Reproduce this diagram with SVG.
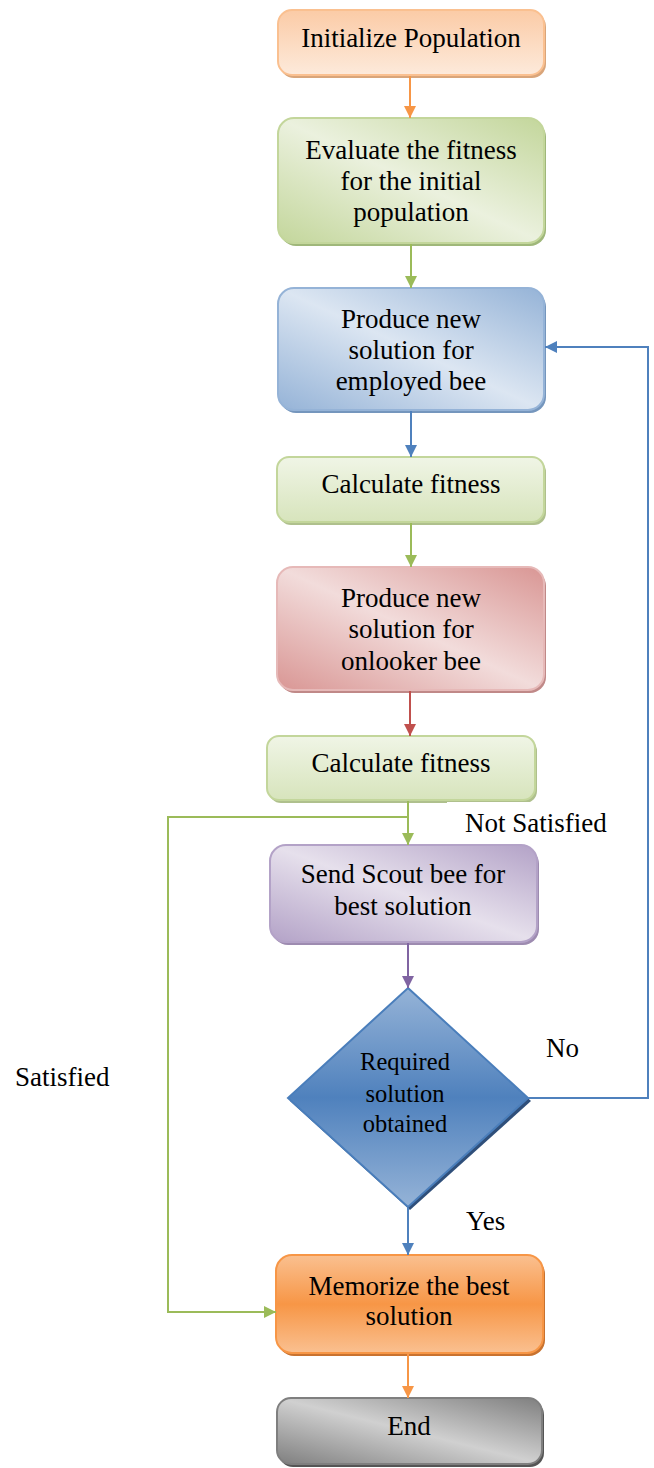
<svg xmlns="http://www.w3.org/2000/svg" width="654" height="1468" viewBox="0 0 654 1468">
<style>
.t{font-family:"Liberation Serif","Times New Roman",serif;font-size:27px;fill:#000;text-anchor:middle}
.d{font-size:24.5px}
.l{font-family:"Liberation Serif","Times New Roman",serif;font-size:27px;fill:#000}
.c{fill:none;stroke-width:2}
</style>
<defs>
<marker id="mo" markerUnits="userSpaceOnUse" markerWidth="14" markerHeight="14" refX="12" refY="6" orient="auto"><path d="M0,0 L12,6 L0,12 z" fill="#f79646"/></marker>
<marker id="mg" markerUnits="userSpaceOnUse" markerWidth="14" markerHeight="14" refX="12" refY="6" orient="auto"><path d="M0,0 L12,6 L0,12 z" fill="#9bbb59"/></marker>
<marker id="mb" markerUnits="userSpaceOnUse" markerWidth="14" markerHeight="14" refX="12" refY="6" orient="auto"><path d="M0,0 L12,6 L0,12 z" fill="#4f81bd"/></marker>
<marker id="mr" markerUnits="userSpaceOnUse" markerWidth="14" markerHeight="14" refX="12" refY="6" orient="auto"><path d="M0,0 L12,6 L0,12 z" fill="#c0504d"/></marker>
<marker id="mp" markerUnits="userSpaceOnUse" markerWidth="14" markerHeight="14" refX="12" refY="6" orient="auto"><path d="M0,0 L12,6 L0,12 z" fill="#8064a2"/></marker>
<linearGradient id="gOr1" x1="0" y1="0" x2="0" y2="1"><stop offset="0" stop-color="#fbcba6"/><stop offset="1" stop-color="#fdeadb"/></linearGradient>
<linearGradient id="gGr" x1="0" y1="1" x2="1" y2="0"><stop offset="0" stop-color="#c3d69b"/><stop offset="0.5" stop-color="#ebf1de"/><stop offset="1" stop-color="#c3d69b"/></linearGradient>
<linearGradient id="gBl" x1="0" y1="1" x2="1" y2="0"><stop offset="0" stop-color="#95b3d7"/><stop offset="0.5" stop-color="#dce6f2"/><stop offset="1" stop-color="#95b3d7"/></linearGradient>
<linearGradient id="gLg" x1="0" y1="0" x2="0" y2="1"><stop offset="0" stop-color="#f0f5e6"/><stop offset="1" stop-color="#d7e4bc"/></linearGradient>
<linearGradient id="gRd" x1="0" y1="1" x2="1" y2="0"><stop offset="0" stop-color="#d99694"/><stop offset="0.5" stop-color="#f2dcdb"/><stop offset="1" stop-color="#d99694"/></linearGradient>
<linearGradient id="gPu" x1="0" y1="1" x2="1" y2="0"><stop offset="0" stop-color="#b3a2c7"/><stop offset="0.5" stop-color="#e6e0ec"/><stop offset="1" stop-color="#b3a2c7"/></linearGradient>
<linearGradient id="gDm" x1="0" y1="0" x2="0" y2="1"><stop offset="0" stop-color="#95b3d7"/><stop offset="0.5" stop-color="#4f81bd"/><stop offset="1" stop-color="#95b3d7"/></linearGradient>
<linearGradient id="gOr2" x1="0" y1="0" x2="0" y2="1"><stop offset="0" stop-color="#fac090"/><stop offset="0.5" stop-color="#f79646"/><stop offset="1" stop-color="#fac090"/></linearGradient>
<linearGradient id="gGy" x1="0" y1="1" x2="1" y2="0"><stop offset="0" stop-color="#7f7f7f"/><stop offset="0.5" stop-color="#d0d0d0"/><stop offset="1" stop-color="#7f7f7f"/></linearGradient>
</defs>

<g id="n1">
<rect x="280" y="13" width="266" height="65" rx="14" fill="#d9a57a"/>
<rect x="278" y="10" width="266" height="65" rx="14" fill="url(#gOr1)" stroke="#fac090" stroke-width="2"/>
<text class="t" x="411" y="47">Initialize Population</text>
</g>
<g id="n2">
<rect x="280" y="121" width="266" height="125" rx="16" fill="#9fb77a"/>
<rect x="278" y="118" width="266" height="125" rx="16" fill="url(#gGr)" stroke="#c3d69b" stroke-width="2"/>
<text class="t" x="411" y="159">Evaluate the fitness</text>
<text class="t" x="411" y="190">for the initial</text>
<text class="t" x="411" y="221">population</text>
</g>
<g id="n3">
<rect x="280" y="291" width="266" height="122" rx="16" fill="#7596bd"/>
<rect x="278" y="288" width="266" height="122" rx="16" fill="url(#gBl)" stroke="#95b3d7" stroke-width="2"/>
<text class="t" x="411" y="328">Produce new</text>
<text class="t" x="411" y="359">solution for</text>
<text class="t" x="411" y="390">employed bee</text>
</g>
<g id="n4">
<rect x="279" y="460" width="267" height="65" rx="12" fill="#afc08d"/>
<rect x="277" y="457" width="267" height="65" rx="12" fill="url(#gLg)" stroke="#c3d69b" stroke-width="2"/>
<text class="t" x="411" y="493">Calculate fitness</text>
</g>
<g id="n5">
<rect x="279" y="570" width="267" height="123" rx="16" fill="#c08988"/>
<rect x="277" y="567" width="267" height="123" rx="16" fill="url(#gRd)" stroke="#e6b9b8" stroke-width="2"/>
<text class="t" x="411" y="607">Produce new</text>
<text class="t" x="411" y="638">solution for</text>
<text class="t" x="411" y="670">onlooker bee</text>
</g>
<g id="n6">
<rect x="269" y="739" width="268" height="64" rx="12" fill="#afc08d"/>
<rect x="267" y="736" width="268" height="64" rx="12" fill="url(#gLg)" stroke="#c3d69b" stroke-width="2"/>
<text class="t" x="401" y="772">Calculate fitness</text>
</g>
<rect x="447" y="802" width="180" height="42" fill="#fff"/>
<g id="n7">
<rect x="272" y="848" width="267" height="97" rx="16" fill="#9d8bb0"/>
<rect x="270" y="845" width="267" height="97" rx="16" fill="url(#gPu)" stroke="#b3a2c7" stroke-width="2"/>
<text class="t" x="403" y="883">Send Scout bee for</text>
<text class="t" x="403" y="915">best solution</text>
</g>
<g id="n8">
<polygon points="410,991 531,1101 410,1210 290,1101" fill="#2f4f7a"/>
<polygon points="408,988 528,1098 408,1207 288,1098" fill="url(#gDm)" stroke="#4a7ebb" stroke-width="2"/>
<text class="t d" x="405" y="1070">Required</text>
<text class="t d" x="405" y="1102">solution</text>
<text class="t d" x="405" y="1132">obtained</text>
</g>
<g id="n9">
<rect x="278" y="1258" width="267" height="98" rx="16" fill="#c8722f"/>
<rect x="276" y="1255" width="267" height="98" rx="16" fill="url(#gOr2)" stroke="#f79646" stroke-width="2"/>
<text class="t" x="409" y="1295">Memorize the best</text>
<text class="t" x="409" y="1325">solution</text>
</g>
<g id="n10">
<rect x="279" y="1401" width="265" height="66" rx="14" fill="#555"/>
<rect x="277" y="1398" width="265" height="66" rx="14" fill="url(#gGy)" stroke="#7f7f7f" stroke-width="2"/>
<text class="t" x="409" y="1435">End</text>
</g>

<g id="connectors">
<line class="c" x1="410" y1="76" x2="410" y2="118" stroke="#f79646" marker-end="url(#mo)"/>
<line class="c" x1="411" y1="244" x2="411" y2="288" stroke="#9bbb59" marker-end="url(#mg)"/>
<line class="c" x1="411" y1="411" x2="411" y2="457" stroke="#4f81bd" marker-end="url(#mb)"/>
<line class="c" x1="411" y1="523" x2="411" y2="567" stroke="#9bbb59" marker-end="url(#mg)"/>
<line class="c" x1="410" y1="691" x2="410" y2="736" stroke="#c0504d" marker-end="url(#mr)"/>
<line class="c" x1="408" y1="801" x2="408" y2="845" stroke="#9bbb59" marker-end="url(#mg)"/>
<polyline class="c" points="408,817 168,817 168,1312 276,1312" stroke="#9bbb59" marker-end="url(#mg)"/>
<line class="c" x1="408" y1="943" x2="408" y2="988" stroke="#8064a2" marker-end="url(#mp)"/>
<polyline class="c" points="528,1098 648,1098 648,347 545,347" stroke="#4f81bd" marker-end="url(#mb)"/>
<line class="c" x1="408" y1="1208" x2="408" y2="1255" stroke="#4f81bd" marker-end="url(#mb)"/>
<line class="c" x1="408" y1="1354" x2="408" y2="1398" stroke="#f79646" marker-end="url(#mo)"/>
</g>
<g id="labels">
<text class="l" x="465" y="832">Not Satisfied</text>
<text class="l" x="546" y="1057">No</text>
<text class="l" x="466" y="1230">Yes</text>
<text class="l" x="15" y="1086">Satisfied</text>
</g>
</svg>
